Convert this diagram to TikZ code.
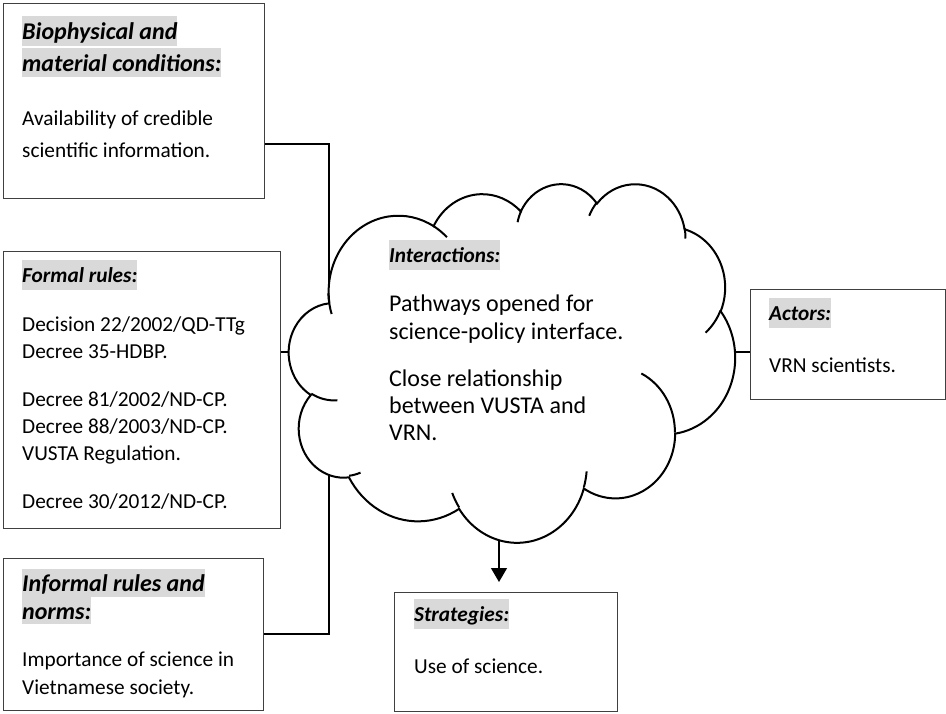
\documentclass[tikz,border=0pt]{standalone}
\usepackage{fontspec}
\setmainfont{Carlito}
\usetikzlibrary{arrows.meta}

% OOXML-style elliptic arc: #1 style name, #2 wR, #3 hR, #4 start (visual deg), #5 sweep (deg)
\newcommand\mkcloudarc[5]{%
  \pgfmathsetmacro\cldA{atan2((#2)*sin(#4),(#3)*cos(#4))}%
  \pgfmathsetmacro\cldB{atan2((#2)*sin((#4)+(#5)),(#3)*cos((#4)+(#5)))}%
  \pgfmathsetmacro\cldB{ifthenelse(\cldB<\cldA,\cldB+360,\cldB)}%
  \edef\cldC{\noexpand\tikzset{#1/.style={x radius=#2, y radius=#3, start angle=\cldA, end angle=\cldB}}}%
  \cldC}

\mkcloudarc{oaA}{6.753}{9.190}{-190.4875}{123.7805}
\mkcloudarc{oaB}{5.333}{7.267}{-144.1024}{89.9452}
\mkcloudarc{oaC}{4.365}{5.945}{-145.8079}{99.7230}
\mkcloudarc{oaD}{4.857}{6.595}{-130.9861}{117.2417}
\mkcloudarc{oaE}{5.333}{7.273}{-78.7089}{109.0269}
\mkcloudarc{oaF}{6.775}{9.220}{-46.2673}{130.2690}
\mkcloudarc{oaG}{5.785}{7.867}{0.6250}{114.0333}
\mkcloudarc{oaH}{6.752}{9.215}{22.4516}{115.1726}
\mkcloudarc{oaI}{7.720}{10.543}{66.2426}{75.7110}
\mkcloudarc{oaJ}{4.360}{5.918}{-274.9421}{146.7356}
\mkcloudarc{oaK}{4.345}{5.945}{-246.8285}{152.5189}

\mkcloudarc{obA}{4.345}{5.945}{86.7420}{26.4295}
\mkcloudarc{obB}{4.360}{5.918}{73.6105}{11.4475}
\mkcloudarc{obC}{6.752}{9.215}{137.6242}{14.0811}
\mkcloudarc{obD}{6.752}{9.215}{6.4533}{15.9984}
\mkcloudarc{obE}{5.785}{7.867}{-70.2924}{70.9174}
\mkcloudarc{obF}{5.333}{7.273}{30.3180}{27.7515}
\mkcloudarc{obG}{4.857}{6.595}{-13.7443}{14.8589}
\mkcloudarc{obH}{4.857}{6.595}{-149.1815}{18.1954}
\mkcloudarc{obI}{4.365}{5.945}{-163.4943}{17.6864}
\mkcloudarc{obJ}{6.753}{9.190}{-66.7070}{12.3194}
\mkcloudarc{obK}{6.753}{9.190}{156.6730}{21.0000}

\begin{document}
\begin{tikzpicture}[x=1pt,y=-1pt,
  box/.style={draw=black!75, line width=1.2pt, anchor=north west, inner sep=0pt},
  conn/.style={draw=black, line width=1.6pt},
  thinconn/.style={draw=black, line width=1.1pt},
  txt/.style={anchor=base west, inner sep=0pt, font=\fontsize{21.3}{27}\selectfont},
  bigtxt/.style={anchor=base west, inner sep=0pt, font=\fontsize{24}{28}\selectfont},
  hd/.style={anchor=base west, inner sep=0pt, fill=black!15, text height=22pt, text depth=8pt,
             font=\fontsize{21.3}{27}\selectfont\bfseries\itshape},
  hdbig/.style={anchor=base west, inner sep=0pt, fill=black!15, text height=23pt, text depth=7pt,
             font=\fontsize{24}{28}\selectfont\bfseries\itshape},
  cloudline/.style={draw=black, line width=2pt}]

\useasboundingbox (0,0) rectangle (946,713);

% boxes
\node[box, minimum width=261pt, minimum height=195pt] (b1) at (3,3) {};
\node[box, minimum width=277pt, minimum height=277pt] (b2) at (3,251) {};
\node[box, minimum width=260pt, minimum height=152pt] (b3) at (3,558) {};
\node[box, minimum width=223pt, minimum height=119pt] (str) at (394,592) {};
\node[box, minimum width=195pt, minimum height=110pt] (act) at (750,289) {};

% connector coordinates
\coordinate (j1) at (329,144);
\coordinate (clTL) at (329,302);
\coordinate (clL) at (289,352);
\coordinate (j3) at (329,634);
\coordinate (clBL) at (329,474);
\coordinate (clR) at (735,352);
\coordinate (clB) at (499,539);
\coordinate (arrEnd) at (499,582);

\draw[conn] (b1.east |- j1) -- (j1) -- (clTL);
\draw[thinconn] (b2.east |- clL) -- (clL);
\draw[conn] (b3.east |- j3) -- (j3) -- (clBL);
\draw[thinconn] (clR) -- (act.west |- clR);
\draw[line width=1.3pt, -{Triangle[width=16pt,length=14pt]}] (clB) -- (arrEnd);

% cloud
\begin{scope}[shift={(289,183)}, x=1pt, y=1pt, xscale=10.3241, yscale=-8.2986]
  \draw[cloudline, fill=white] (3.9,14.37) arc[oaA] arc[oaB] arc[oaC] arc[oaD] arc[oaE]
     arc[oaF] arc[oaG] arc[oaH] arc[oaI] arc[oaJ] arc[oaK] -- cycle;
  \draw[cloudline] (4.693,26.177) arc[obA]
     (6.928,34.899) arc[obB]
     (16.478,39.090) arc[obC]
     (28.827,34.751) arc[obD]
     (34.129,22.954) arc[obE]
     (41.798,15.354) arc[obF]
     (38.324,5.426) arc[obG]
     (29.078,3.952) arc[obH]
     (22.141,4.720) arc[obI]
     (14.000,5.192) arc[obJ]
     (4.127,15.789) arc[obK];
\end{scope}

% box 1
\node[hdbig] (b1h1) at (22,39) {Biophysical and};
\node[hdbig, text depth=6pt] (b1h2) at (22,71) {material conditions:};
\node[txt] (b1t1) at (22,125) {Availability of credible};
\node[txt] (b1t2) at (22,157) {scientific information.};

% box 2
\node[hd] (b2h) at (22,282) {Formal rules:};
\node[txt] (b2t1) at (22,331) {Decision 22/2002/QD-TTg};
\node[txt] (b2t2) at (22,358) {Decree 35-HDBP.};
\node[txt] (b2t3) at (22,406) {Decree 81/2002/ND-CP.};
\node[txt] (b2t4) at (22,433) {Decree 88/2003/ND-CP.};
\node[txt] (b2t5) at (22,460) {VUSTA Regulation.};
\node[txt] (b2t6) at (22,508) {Decree 30/2012/ND-CP.};

% box 3
\node[hdbig, text height=22pt, text depth=6pt] (b3h1) at (22,591) {Informal rules and};
\node[hdbig, text height=22pt, text depth=5pt] (b3h2) at (22,619) {norms:};
\node[txt] (b3t1) at (22,666) {Importance of science in};
\node[txt] (b3t2) at (22,694) {Vietnamese society.};

% strategies
\node[hd] (strh) at (414,621) {Strategies:};
\node[txt] (strt) at (414,673) {Use of science.};

% actors
\node[hd] (acth) at (769,320) {Actors:};
\node[txt] (actt) at (769,372) {VRN scientists.};

% cloud text
\node[hd] (clh) at (389,262) {Interactions:};
\node[bigtxt] (clt1) at (389,311) {Pathways opened for};
\node[bigtxt] (clt2) at (389,339) {science-policy interface.};
\node[bigtxt] (clt3) at (389,386) {Close relationship};
\node[bigtxt] (clt4) at (389,413) {between VUSTA and};
\node[bigtxt] (clt5) at (389,440) {VRN.};
\end{tikzpicture}
\end{document}
